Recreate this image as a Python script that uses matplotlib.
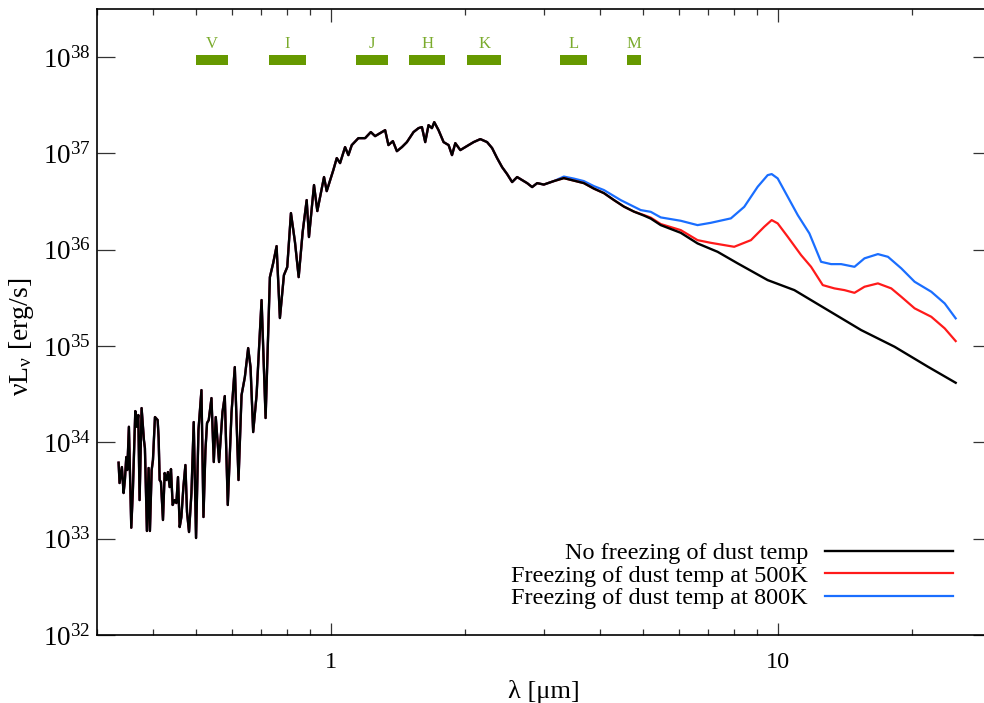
import numpy as np
import matplotlib
matplotlib.use('Agg')
import matplotlib.pyplot as plt
from matplotlib.ticker import FixedLocator, NullLocator, LogLocator, NullFormatter, FixedFormatter

plt.rcParams['font.family'] = ['Liberation Serif', 'DejaVu Serif']
plt.rcParams['mathtext.fontset'] = 'custom'
plt.rcParams['mathtext.rm'] = 'Liberation Serif'
plt.rcParams['mathtext.it'] = 'Liberation Serif:italic'
plt.rcParams['mathtext.bf'] = 'Liberation Serif:bold'

# ---------------- data (log10 of wavelength in micron, log10 of nuLnu in erg/s) ----------------
# common (optical / near-IR) part shared by all three models
log_lam_common = [
    -0.4746, -0.4724, -0.4672, -0.4634, -0.4605, -0.4574, -0.4551, -0.4515, -0.4462, -0.4426,
    -0.4372, -0.4336, -0.4305, -0.4276, -0.4231, -0.4179, -0.4157, -0.4112, -0.4074, -0.4045,
    -0.4006, -0.3977, -0.3932, -0.3872, -0.3850, -0.3827, -0.3798, -0.3753, -0.3715, -0.3677,
    -0.3641, -0.3603, -0.3574, -0.3536, -0.3491, -0.3453, -0.3417, -0.3379, -0.3341, -0.3296,
    -0.3251, -0.3215, -0.3170, -0.3116, -0.3065, -0.3013, -0.2959, -0.2892, -0.2847, -0.2803,
    -0.2767, -0.2729, -0.2668, -0.2616, -0.2572, -0.2498, -0.2421, -0.2370, -0.2303, -0.2220,
    -0.2146, -0.2063, -0.1995, -0.1921, -0.1847, -0.1794, -0.1735, -0.1659, -0.1547, -0.1457,
    -0.1361, -0.1287, -0.1211, -0.1137, -0.1047, -0.0973, -0.0890, -0.0800, -0.0717, -0.0628,
    -0.0538, -0.0487, -0.0374, -0.0300, -0.0150, -0.0090, 0.0058, 0.0135, 0.0209, 0.0321,
    0.0395, 0.0471, 0.0619, 0.0769, 0.0897, 0.0993, 0.1217, 0.1291, 0.1390, 0.1480,
    0.1592, 0.1704, 0.1852, 0.1964, 0.2040, 0.2114, 0.2188, 0.2264, 0.2316, 0.2412,
    0.2525, 0.2637, 0.2713, 0.2787, 0.2899, 0.2973, 0.3085, 0.3197, 0.3347, 0.3498,
    0.3610, 0.3722, 0.3834, 0.3946, 0.4058, 0.4170, 0.4282, 0.4394, 0.4506, 0.4619,
    0.4767, 0.4991]
log_L_common = [
    33.789, 33.578, 33.744, 33.474, 33.609, 33.848, 33.713, 34.162, 33.114, 33.505,
    34.325, 34.162, 34.284, 33.401, 34.356, 34.024, 33.941, 33.080, 33.734, 33.080,
    33.713, 33.817, 34.263, 34.232, 34.045, 33.609, 33.588, 33.194, 33.682, 33.609,
    33.692, 33.536, 33.723, 33.350, 33.401, 33.370, 33.640, 33.121, 33.225, 33.536,
    33.765, 33.277, 33.069, 33.474, 34.211, 33.007, 34.128, 34.543, 33.225, 33.920,
    34.201, 34.232, 34.460, 33.796, 34.263, 33.796, 34.315, 34.481, 33.350, 34.305,
    34.782, 33.609, 34.491, 34.678, 34.979, 34.782, 34.107, 34.491, 35.478, 34.253,
    35.716, 35.862, 36.038, 35.291, 35.737, 35.820, 36.381, 36.080, 35.716, 36.184,
    36.516, 36.132, 36.672, 36.402, 36.755, 36.609, 36.827, 36.952, 36.900, 37.066,
    36.983, 37.087, 37.159, 37.159, 37.222, 37.180, 37.242, 37.087, 37.128, 37.024,
    37.066, 37.118, 37.222, 37.263, 37.274, 37.118, 37.294, 37.263, 37.325, 37.242,
    37.118, 37.087, 36.983, 37.107, 37.035, 37.056, 37.087, 37.118, 37.149, 37.118,
    37.056, 36.952, 36.858, 36.786, 36.703, 36.755, 36.723, 36.692, 36.651, 36.692,
    36.677, 36.713]

# mid-IR part: no freezing of dust temperature
log_lam_none = [0.5215, 0.5439, 0.5663, 0.5887, 0.6112, 0.6336, 0.6560, 0.6784, 0.7008, 0.7159,
                0.7383, 0.7831, 0.8206, 0.8654, 0.9103, 0.9775, 1.0372, 1.1120, 1.1867, 1.2614,
                1.3362, 1.3981]
log_L_none = [36.744, 36.718, 36.692, 36.635, 36.588, 36.516, 36.448, 36.396, 36.355, 36.324,
              36.256, 36.176, 36.066, 35.979, 35.859, 35.685, 35.581, 35.374, 35.166, 34.993,
              34.785, 34.619]

# mid-IR part: dust temperature frozen at 500 K
log_lam_500 = [0.5215, 0.5439, 0.5663, 0.5887, 0.6112, 0.6336, 0.6560, 0.6784, 0.7008, 0.7159,
               0.7383, 0.7831, 0.8206, 0.8504, 0.9026, 0.9401, 0.9699, 0.9865, 0.9999, 1.0224,
               1.0522, 1.0746, 1.1008, 1.1268, 1.1493, 1.1717, 1.1941, 1.2241, 1.2540, 1.2764,
               1.3062, 1.3436, 1.3735, 1.3981]
log_L_500 = [36.744, 36.718, 36.692, 36.635, 36.588, 36.516, 36.448, 36.396, 36.360, 36.334,
             36.267, 36.204, 36.100, 36.072, 36.031, 36.100, 36.239, 36.308, 36.274, 36.135,
             35.945, 35.823, 35.633, 35.599, 35.581, 35.553, 35.616, 35.651, 35.599, 35.512,
             35.392, 35.304, 35.184, 35.052]

# mid-IR part: dust temperature frozen at 800 K
log_lam_800 = [0.5215, 0.5439, 0.5663, 0.5887, 0.6112, 0.6486, 0.6935, 0.7159, 0.7383, 0.7831,
               0.8206, 0.8504, 0.8952, 0.9251, 0.9551, 0.9775, 0.9865, 0.9999, 1.0224, 1.0448,
               1.0708, 1.0970, 1.1194, 1.1419, 1.1717, 1.1941, 1.2241, 1.2466, 1.2764, 1.3062,
               1.3436, 1.3735, 1.3981]
log_L_800 = [36.760, 36.739, 36.713, 36.661, 36.620, 36.516, 36.412, 36.394, 36.336, 36.301,
             36.256, 36.280, 36.326, 36.446, 36.654, 36.775, 36.786, 36.741, 36.550, 36.360,
             36.170, 35.875, 35.851, 35.851, 35.823, 35.911, 35.955, 35.927, 35.807, 35.668,
             35.564, 35.443, 35.288]

series_labels = ['No freezing of dust temp',
                 'Freezing of dust temp at 500K',
                 'Freezing of dust temp at 800K']
series_colors = ['black', '#ff1a1a', '#1a6eff']

# photometric bands (micron)
band_names = ['V', 'I', 'J', 'H', 'K', 'L', 'M']
band_lo = [0.50, 0.727, 1.14, 1.50, 2.02, 3.25, 4.59]
band_hi = [0.59, 0.880, 1.34, 1.80, 2.41, 3.74, 4.94]
band_bar_low, band_bar_high, band_text_y = 8.3e37, 1.05e38, 1.37e38

ytick_exps = [32, 33, 34, 35, 36, 37, 38]
xtick_vals = [1, 10]
xtick_labels = ['1', '10']

# ---------------- figure ----------------
fig = plt.figure(figsize=(9.84, 7.03), dpi=100)
ax = fig.add_axes([97 / 984, 68 / 703, 894 / 984, 626 / 703])
ax.set_xscale('log')
ax.set_yscale('log')

def full(log_lam_ir, log_L_ir):
    lam = 10 ** np.concatenate([log_lam_common, log_lam_ir])
    L = 10 ** np.concatenate([log_L_common, log_L_ir])
    return lam, L

lam_n, L_n = full(log_lam_none, log_L_none)
lam_5, L_5 = full(log_lam_500, log_L_500)
lam_8, L_8 = full(log_lam_800, log_L_800)

l8, = ax.plot(lam_8, L_8, color=series_colors[2], lw=1.6, zorder=2)
l5, = ax.plot(lam_5, L_5, color=series_colors[1], lw=1.6, zorder=3)
ln, = ax.plot(lam_n, L_n, color=series_colors[0], lw=1.7, zorder=4)

for name, lo, hi in zip(band_names, band_lo, band_hi):
    ax.fill_between([lo, hi], band_bar_low, band_bar_high, color='#669900', lw=0, zorder=5)
    ax.text(np.sqrt(lo * hi), band_text_y, name, ha='center', va='center',
            fontsize=12, color='#7aab2c', zorder=5)

ax.set_xlim(0.3, 30)
ax.set_ylim(1e32, 10 ** 38.5)

ax.yaxis.set_major_locator(FixedLocator([10.0 ** e for e in ytick_exps]))
ax.yaxis.set_major_formatter(FixedFormatter([r'$10^{%d}$' % e for e in ytick_exps]))
ax.yaxis.set_minor_locator(NullLocator())
ax.xaxis.set_major_locator(FixedLocator(xtick_vals))
ax.xaxis.set_major_formatter(FixedFormatter(xtick_labels))
ax.xaxis.set_minor_locator(LogLocator(base=10, subs=np.arange(2, 10)))
ax.xaxis.set_minor_formatter(NullFormatter())

ax.tick_params(which='both', direction='in', top=True, right=True, color='#333333', width=0.9)
ax.tick_params(axis='x', which='major', length=9, pad=12, labelsize=17.5)
ax.tick_params(axis='x', which='minor', length=4.5)
ax.tick_params(axis='y', which='major', length=13, pad=4.5, labelsize=19.5)
for s in ax.spines.values():
    s.set_linewidth(1.2)

ax.set_xlabel('λ [μm]', fontsize=19, labelpad=5)
ax.set_ylabel(r'$\mathrm{\nu L_{\nu}}$ [erg/s]', fontsize=20)
ax.yaxis.set_label_coords(-0.068, 0.476)

leg = ax.legend([ln, l5, l8], series_labels, loc='lower right',
                bbox_to_anchor=(0.9575, 0.041), bbox_transform=ax.transAxes,
                frameon=False, markerfirst=False, fontsize=17.5, handlelength=5.27,
                handletextpad=0.7, labelspacing=0.02, borderpad=0, borderaxespad=0)

fig.savefig('out.png', dpi=100)
